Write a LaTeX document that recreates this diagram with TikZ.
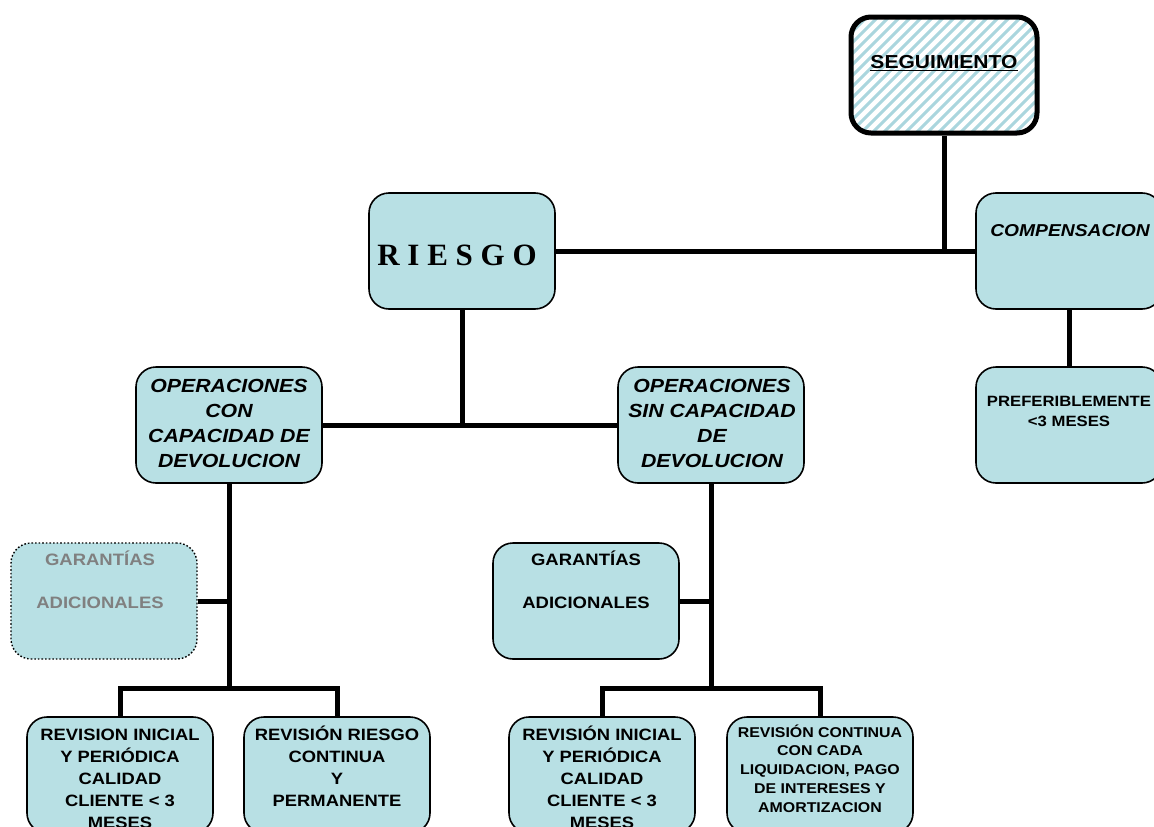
\documentclass[tikz,border=0pt]{standalone}
\usepackage{fontspec}
\setmainfont{Liberation Sans}[FakeStretch=1.12]
\newfontfamily\serifrm{Liberation Serif}
\usetikzlibrary{calc}
\definecolor{boxfill}{RGB}{184,224,228}
\definecolor{hatchc}{RGB}{170,214,222}
\definecolor{graytxt}{RGB}{128,128,128}
\pgfdeclarelayer{bg}
\pgfsetlayers{bg,main}
\tikzset{
  box/.style={draw, line width=1.6pt, fill=boxfill, rounded corners=20pt,
    minimum width=186pt, minimum height=116pt, inner sep=0pt},
  dotbox/.style={box, dotted, line width=1.4pt},
  conn/.style={line width=5pt},
  txt/.style={align=center, inner sep=0pt, anchor=base},
  ftitle/.style={font=\bfseries\itshape\fontsize{19}{25}\selectfont},
  fbottom/.style={font=\bfseries\fontsize{16.4}{22}\selectfont},
}
\begin{document}
\begin{tikzpicture}[x=1pt,y=-1pt]
\useasboundingbox (0,0) rectangle (1154,827);
% boxes
\node[box, fill=white, line width=5pt,
  path picture={\foreach \i in {-130,-119,...,200}
     \draw[hatchc, line width=3pt] ($(path picture bounding box.south west)+(\i,8)$) -- ++(160,-160);}]
  (seg) at (944,75) {};
\node[box] (riesgo) at (462,251) {};
\node[box] (comp) at (1069,251) {};
\node[box] (pref) at (1069,425) {};
\node[box] (opcon) at (229,425) {};
\node[box] (opsin) at (711,425) {};
\node[dotbox] (gar1) at (104,601) {};
\node[box] (gar2) at (586,601) {};
\node[box] (rev1) at (120,775) {};
\node[box] (rev2) at (337,775) {};
\node[box] (rev3) at (602,775) {};
\node[box] (rev4) at (820,775) {};
\coordinate (j1) at (229,688);
\coordinate (j2) at (711,688);
% connectors
\begin{pgfonlayer}{bg}
\draw[conn] (seg.south) -- (seg.south |- riesgo.east);
\draw[conn] (riesgo.east) -- (comp.west);
\draw[conn] (comp.south) -- (pref.north);
\draw[conn] (riesgo.south) -- (riesgo.south |- opcon.east);
\draw[conn] (opcon.east) -- (opsin.west);
\draw[conn] (opcon.south) -- (j1);
\draw[conn] (gar1.east) -- (gar1.east -| j1);
\draw[conn] (rev1.north) |- (j1) -| (rev2.north);
\draw[conn] (opsin.south) -- (j2);
\draw[conn] (gar2.east) -- (gar2.east -| j2);
\draw[conn] (rev3.north) |- (j2) -| (rev4.north);
\end{pgfonlayer}
% texts (anchor base = baseline of last line)
\node[txt, font=\bfseries\fontsize{18.8}{22}\selectfont] (tseg) at (944,68.5) {\underline{SEGUIMIENTO}};
\node[txt, font=\serifrm\bfseries\fontsize{31}{36}\selectfont] (triesgo) at (457,265) {R I E S G O};
\node[txt, font=\bfseries\itshape\fontsize{17.2}{22}\selectfont] (tcomp) at (1070,236.5) {COMPENSACION};
\node[txt, font=\bfseries\fontsize{14.9}{20}\selectfont] (tpref) at (1069,426.5) {PREFERIBLEMENTE\\<3 MESES};
\node[txt, ftitle] (topcon) at (229,467.5) {OPERACIONES\\CON\\CAPACIDAD DE\\DEVOLUCION};
\node[txt, ftitle] (topsin) at (712,467.5) {OPERACIONES\\SIN CAPACIDAD\\DE\\DEVOLUCION};
\node[txt, text=graytxt, font=\bfseries\fontsize{16.5}{21.5}\selectfont] (tgar1) at (100,608) {GARANTÍAS\\[21.5pt]ADICIONALES};
\node[txt, font=\bfseries\fontsize{16.5}{21.5}\selectfont] (tgar2) at (586,608) {GARANTÍAS\\[21.5pt]ADICIONALES};
\node[txt, fbottom] (trev1) at (120,828) {REVISION INICIAL\\Y PERIÓDICA\\CALIDAD\\CLIENTE < 3\\MESES};
\node[txt, fbottom] (trev2) at (337,806) {REVISIÓN RIESGO\\CONTINUA\\Y\\PERMANENTE};
\node[txt, fbottom] (trev3) at (602,828) {REVISIÓN INICIAL\\Y PERIÓDICA\\CALIDAD\\CLIENTE < 3\\MESES};
\node[txt, font=\bfseries\fontsize{14.2}{18.8}\selectfont] (trev4) at (820,812.2) {REVISIÓN CONTINUA\\CON CADA\\LIQUIDACION, PAGO\\DE INTERESES Y\\AMORTIZACION};
\end{tikzpicture}
\end{document}
